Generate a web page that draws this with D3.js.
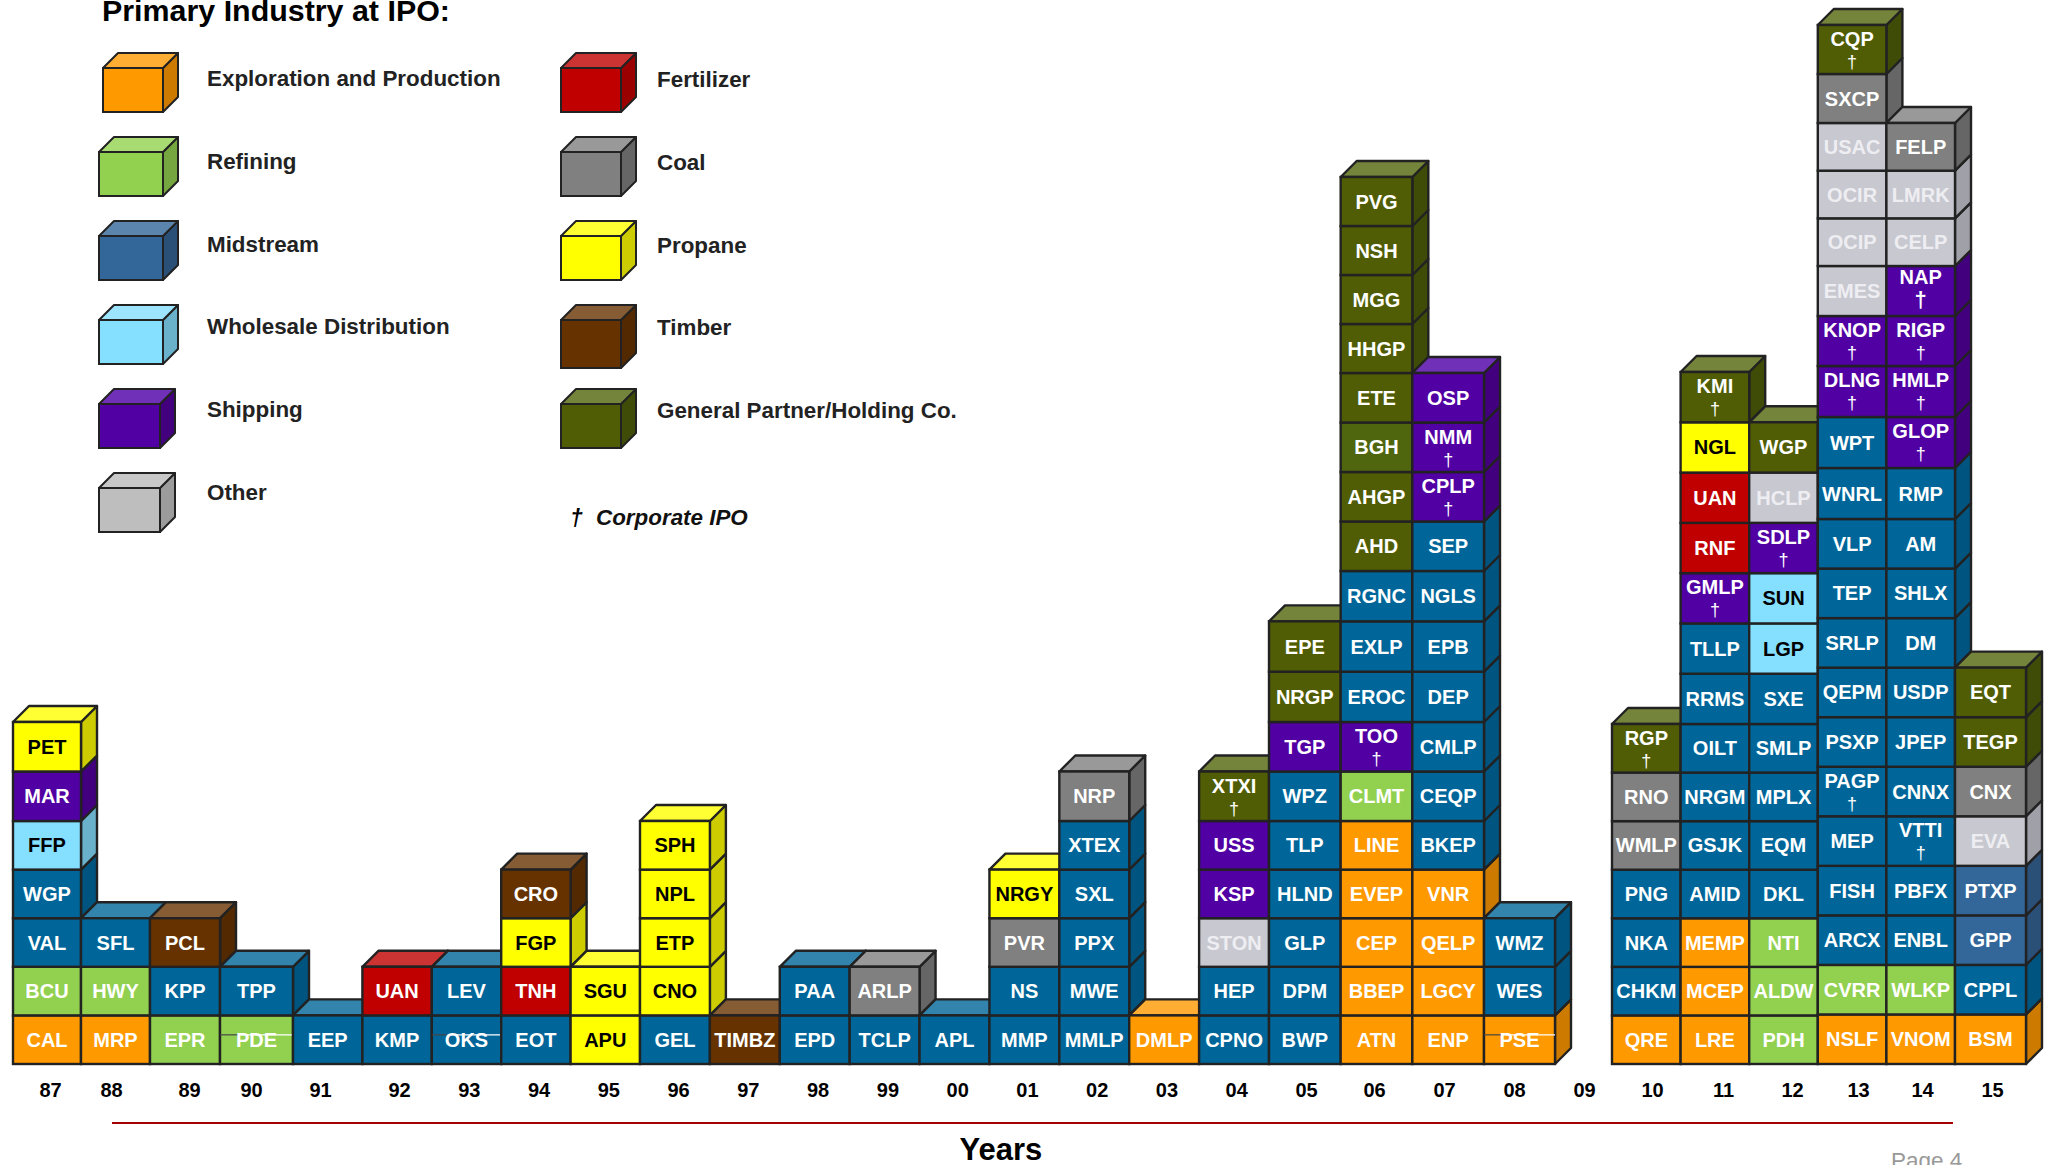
<!DOCTYPE html>
<html><head><meta charset="utf-8">
<script src="https://cdn.jsdelivr.net/npm/d3@7/dist/d3.min.js"></script>
<style>html,body{margin:0;padding:0;background:#fff;overflow:hidden}svg{display:block}text{font-family:"Liberation Sans",Arial,sans-serif;font-weight:700}</style>
</head><body><svg id="c" width="2047" height="1165"></svg>
<script>
const years=["87","88","89","90","91","92","93","94","95","96","97","98","99","00","01","02","03","04","05","06","07","08","09","10","11","12","13","14","15"];
const tickers=[
["CAL","BCU","VAL","WGP","FFP","MAR","PET"],
["MRP","HWY","SFL"],
["EPR","KPP","PCL"],
["PDE","TPP"],
["EEP"],
["KMP","UAN"],
["OKS","LEV"],
["EOT","TNH","FGP","CRO"],
["APU","SGU"],
["GEL","CNO","ETP","NPL","SPH"],
["TIMBZ"],
["EPD","PAA"],
["TCLP","ARLP"],
["APL"],
["MMP","NS","PVR","NRGY"],
["MMLP","MWE","PPX","SXL","XTEX","NRP"],
["DMLP"],
["CPNO","HEP","STON","KSP","USS","XTXI"],
["BWP","DPM","GLP","HLND","TLP","WPZ","TGP","NRGP","EPE"],
["ATN","BBEP","CEP","EVEP","LINE","CLMT","TOO","EROC","EXLP","RGNC","AHD","AHGP","BGH","ETE","HHGP","MGG","NSH","PVG"],
["ENP","LGCY","QELP","VNR","BKEP","CEQP","CMLP","DEP","EPB","NGLS","SEP","CPLP","NMM","OSP"],
["PSE","WES","WMZ"],
[],
["QRE","CHKM","NKA","PNG","WMLP","RNO","RGP"],
["LRE","MCEP","MEMP","AMID","GSJK","NRGM","OILT","RRMS","TLLP","GMLP","RNF","UAN","NGL","KMI"],
["PDH","ALDW","NTI","DKL","EQM","MPLX","SMLP","SXE","LGP","SUN","SDLP","HCLP","WGP"],
["NSLF","CVRR","ARCX","FISH","MEP","PAGP","PSXP","QEPM","SRLP","TEP","VLP","WNRL","WPT","DLNG","KNOP","EMES","OCIP","OCIR","USAC","SXCP","CQP"],
["VNOM","WLKP","ENBL","PBFX","VTTI","CNNX","JPEP","USDP","DM","SHLX","AM","RMP","GLOP","HMLP","RIGP","NAP","CELP","LMRK","FELP"],
["BSM","CPPL","GPP","PTXP","EVA","CNX","TEGP","EQT"]
];
// one industry code per ticker, bottom to top
const industryCodes=["ERMMWSP","ERM","RMT","RM","M","MF","MM","MFPT","PP","MPPPP","T","MM","MC","M","MMCP","MMMMMC","E","MMOSSG","MMMMMMSGG","EEEEERSMMMGGHGGGGG","EEEEMMMMMMMSSS","EMM","","EMMMCCG","EEEMMMMMMSFFPG","RRRMMMMMWWSOG","ERMMMMMMMMMMMSSOOOOCG","ERMMMMMMMMMMSSSSOOC","EMNNOCGG"];
const corporateIPOs=["XTXI","TOO","CPLP","NMM","RGP","GMLP","KMI","SDLP","PAGP","DLNG","KNOP","CQP","VTTI","GLOP","HMLP","RIGP","NAP"];
const struckOut=["PDE","OKS","PSE"];
const legendLeft=["Exploration and Production","Refining","Midstream","Wholesale Distribution","Shipping","Other"];
const legendRight=["Fertilizer","Coal","Propane","Timber","General Partner/Holding Co."];
const legendLeftCodes=["E","R","L","W","S","X"];
const legendRightCodes=["F","C","P","T","G"];

const codes=["E","R","M","N","L","W","S","O","X","F","C","P","T","G","H"];
const front=d3.scaleOrdinal(codes,["#ff9900","#92d050","#006699","#336699","#336699","#85dfff","#5000a3","#c8c8d0","#bebebe","#c00000","#808080","#ffff00","#663300","#505d05","#4f660f"]);
const topFace=d3.scaleOrdinal(codes,["#ffad33","#a8dc73","#3384ad","#5c85ad","#5c85ad","#9de5ff","#7030b8","#c8c8c8","#c8c8c8","#cc3333","#999999","#ffff33","#855c33","#74843a","#74843a"]);
const sideFace=d3.scaleOrdinal(codes,["#cc7a00","#75a640","#005580","#2b5078","#2b5078","#6ab2cc","#42007f","#a0a0a8","#9c9c9c","#9a0000","#666666","#cccc00","#522900","#3f4c08","#3f4c08"]);
const labelFill=d3.scaleOrdinal(codes,["#fff","#fff","#fff","#fff","#fff","#000","#fff","#eeeef2","#eee","#fff","#fff","#000","#fff","#fff","#fff"]);

const svg=d3.select("#c");
const ink="#222";
const x=d3.scaleLinear().domain([0,1,2,3,4,9,18,21,22,23,28,29]).range([13,81,150,220,293,640,1269,1484,1555,1612,1955,2026]);
// the hand-stacked columns drift slightly, so each group of years has its own count scale
const yEarly=d3.scaleLinear().domain([0,5,7,10,14,18]).range([1064,821,722,571,373,177]);
const yMid=d3.scaleLinear().domain([0,7,14]).range([1064,724,372]);
const yLate=d3.scaleLinear().domain([0,11,14,16,19,21]).range([1064,519,366,266,123,25]);
const yFor=i=>i<=21?yEarly:(i<=25?yMid:yLate);
const tickX=d3.scaleLinear().domain([0,1,2,3,4,5,18,19,21,22,23,24,25,26,27,28]).range([50,111,189,251,320,399,1306,1374,1514,1584,1652,1723,1792,1858,1922,1992]);
const depth=16;

function cube(g,x0,x1,yT,yB,code,d,showTop,sw){
  const pts=a=>a.map(p=>p.join(",")).join(" ");
  g.append("polygon").attr("points",pts([[x1,yT],[x1+d,yT-d],[x1+d,yB-d],[x1,yB]]))
    .attr("fill",sideFace(code)).attr("stroke",ink).attr("stroke-width",sw).attr("stroke-linejoin","round");
  if(showTop) g.append("polygon").attr("points",pts([[x0,yT],[x0+d,yT-d],[x1+d,yT-d],[x1,yT]]))
    .attr("fill",topFace(code)).attr("stroke",ink).attr("stroke-width",sw).attr("stroke-linejoin","round");
  g.append("rect").attr("x",x0).attr("y",yT).attr("width",x1-x0).attr("height",yB-yT)
    .attr("fill",front(code)).attr("stroke",ink).attr("stroke-width",sw);
}

const plot=svg.append("g");
years.forEach((yr,i)=>{
  const col=plot.append("g");
  const x0=x(i),x1=x(i+1),y=yFor(i);
  tickers[i].forEach((t,j)=>{
    cube(col,x0,x1,y(j+1),y(j),industryCodes[i][j],depth,j===tickers[i].length-1,2.4);
  });
  tickers[i].forEach((t,j)=>{
    const code=industryCodes[i][j];
    const yB=y(j),yT=y(j+1),mid=(x0+x1)/2;
    const corp=corporateIPOs.includes(t),big=t==="NAP";
    if(struckOut.includes(t)){
      const ly=yB-(yB-yT)*0.6,lx=x0+(x1-x0)*0.25;
      col.append("line").attr("x1",x0).attr("x2",lx).attr("y1",ly).attr("y2",ly).attr("stroke","#444").attr("stroke-width",1.2);
      col.append("line").attr("x1",lx).attr("x2",x1).attr("y1",ly).attr("y2",ly).attr("stroke","#fff").attr("stroke-width",1.2);
    }
    col.append("text").attr("x",mid).attr("y",corp?yT+(big?18:21):(yT+yB)/2+7)
      .attr("text-anchor","middle").attr("font-size",20).attr("fill",labelFill(code)).text(t);
    if(corp) col.append("text").attr("x",mid).attr("y",yT+(big?41:43))
      .attr("text-anchor","middle").attr("font-size",big?22:18).style("font-weight",big?700:400)
      .attr("fill",labelFill(code)).text("\u2020");
  });
});

// years axis
const axis=d3.axisBottom(d3.scaleOrdinal(years,years.map((_,i)=>tickX(i)))).tickSize(0).tickPadding(0);
const ag=svg.append("g").attr("transform","translate(0,1083)").call(axis);
ag.select(".domain").remove();
ag.selectAll("text").attr("font-size",20).attr("fill","#000").style("font-family",'"Liberation Sans"').style("font-weight",700);

svg.append("line").attr("x1",112).attr("x2",1953).attr("y1",1123).attr("y2",1123).attr("stroke","#a50000").attr("stroke-width",2);
svg.append("text").attr("x",1001).attr("y",1160).attr("text-anchor","middle").attr("font-size",31).attr("fill","#000").text("Years");
svg.append("text").attr("x",1891).attr("y",1168).attr("font-size",22.5).style("font-weight",400).attr("fill","#999").text("Page 4");

// legend
const lg=svg.append("g");
lg.append("text").attr("x",102).attr("y",21).attr("font-size",30.4).attr("fill","#000").text("Primary Industry at IPO:");
const rowY=d3.scaleLinear().domain([0,1]).range([68,152]);
const leftBase=d3.scaleLinear().domain([0,1]).range([86,168.8]);
const rightBase=d3.scaleLinear().domain([0,1]).range([87,169.8]);
legendLeft.forEach((s,i)=>{
  const w=i>=4?61:(i==0?60:64), l=i==0?103:99;
  cube(lg,l,l+w,rowY(i),rowY(i)+44,legendLeftCodes[i],15,true,2);
  lg.append("text").attr("x",207).attr("y",leftBase(i)).attr("font-size",22.4).attr("fill","#222").text(s);
});
legendRight.forEach((s,i)=>{
  cube(lg,561,621,rowY(i),rowY(i)+(i==3?48:44),legendRightCodes[i],15,true,2);
  lg.append("text").attr("x",657).attr("y",rightBase(i)).attr("font-size",22.4).attr("fill","#222").text(s);
});
lg.append("text").attr("x",570).attr("y",526).attr("font-size",23).attr("font-style","italic").text("\u2020");
lg.append("text").attr("x",596).attr("y",525).attr("font-size",22.4).attr("font-style","italic").attr("fill","#111").text("Corporate IPO");
</script></body></html>
